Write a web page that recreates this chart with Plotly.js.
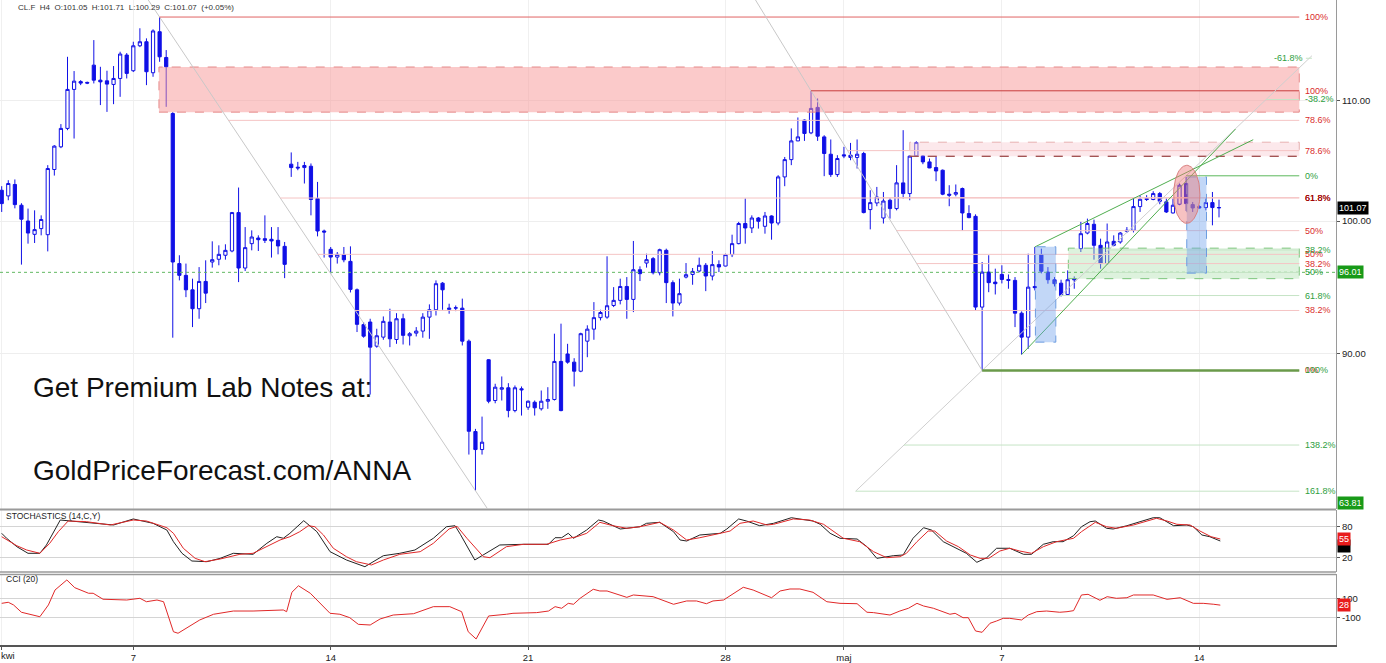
<!DOCTYPE html>
<html><head><meta charset="utf-8">
<script src="https://cdn.plot.ly/plotly-3.0.1.min.js"></script>
<style>html,body{margin:0;padding:0;background:#fff}#chart{width:1386px;height:663px}</style>
</head><body><div id="chart"></div>
<script>
// ---------- price data (H4 bars, index = bar number) ----------
const open = [102.47,102.01,102.94,101.26,100.00,98.95,99.40,98.92,104.17,106.06,
107.62,111.00,111.69,111.62,113.16,111.82,111.76,111.44,111.97,114.07,
112.66,114.91,115.28,112.48,116.20,113.85,108.90,96.68,95.78,94.69,
93.28,95.32,96.80,97.01,97.32,97.65,100.67,96.34,98.22,98.66,
98.61,98.56,98.48,98.01,104.61,104.36,104.33,104.44,101.80,99.21,
97.78,97.18,97.37,96.85,94.69,92.11,92.30,90.55,91.20,92.30,
91.03,92.54,91.30,91.49,91.64,92.66,93.20,95.19,93.23,93.32,
93.32,90.91,84.62,83.42,89.58,86.73,87.51,87.61,86.04,87.54,
86.27,86.61,86.16,86.68,86.80,89.46,89.99,89.41,88.77,90.91,
91.78,92.62,92.66,93.52,93.90,94.94,93.97,96.21,96.72,97.06,
95.98,97.70,95.23,93.70,95.65,95.85,96.11,96.55,95.73,96.60,
96.49,97.37,98.22,99.80,99.45,100.24,99.58,100.40,99.84,103.56,
104.99,106.56,108.33,107.24,109.43,106.90,105.44,103.75,105.39,105.36,
105.17,105.50,100.91,101.44,100.24,101.66,100.99,103.07,102.20,105.30,
105.30,104.80,104.33,104.11,102.15,102.15,102.61,100.59,100.37,93.40,
96.03,95.27,95.85,95.47,95.40,92.95,91.20,94.94,97.37,96.03,
95.45,95.19,94.34,95.53,97.83,99.05,99.74,98.09,96.68,98.40,
98.35,99.18,99.26,101.15,101.80,101.72,102.20,101.53,100.64,101.34,
103.02,101.31,101.15,101.07,101.47,101.05];
const high = [102.80,103.29,103.35,101.42,100.99,100.85,100.45,104.53,106.20,107.99,
113.91,112.63,111.82,111.69,115.43,113.01,112.66,113.08,114.37,114.25,
115.28,116.52,115.59,116.42,117.56,114.52,109.02,97.32,96.68,95.53,
96.41,96.93,98.40,98.09,98.17,100.72,102.69,99.52,99.26,98.87,
100.45,99.52,99.52,98.35,105.59,104.80,104.80,104.67,103.15,99.32,
97.96,97.57,97.96,98.01,94.79,92.30,92.54,91.81,92.71,93.28,
92.95,92.91,91.57,91.93,92.95,93.60,95.40,95.27,93.65,93.52,
94.03,91.03,84.80,85.63,89.62,87.89,88.40,87.93,87.77,87.70,
86.73,86.73,87.42,87.65,91.45,92.18,90.72,89.69,91.52,92.06,
93.77,93.20,97.24,94.89,95.53,95.65,98.43,96.47,97.44,97.18,
97.83,97.83,95.40,95.53,96.72,96.34,97.14,96.72,97.65,96.93,
97.44,98.92,99.93,101.80,100.45,100.32,100.72,100.45,103.70,105.21,
107.62,108.56,108.39,110.88,110.21,107.04,106.68,105.36,106.06,106.39,
106.68,105.64,102.47,102.74,102.33,101.82,104.53,107.47,105.33,106.53,
105.36,105.08,105.28,104.17,102.88,102.94,102.69,101.26,100.53,96.80,
97.32,96.29,96.55,95.85,95.65,93.08,97.44,97.96,97.83,96.41,
95.65,95.45,96.16,95.70,99.93,100.19,100.11,98.61,99.80,98.87,
99.13,99.52,101.80,102.07,102.07,102.39,102.33,101.80,101.80,103.02,
103.56,101.52,101.26,101.82,102.33,101.71];
const low = [100.72,101.66,101.01,96.60,98.22,98.27,98.87,97.62,103.67,105.95,
107.47,106.76,111.38,111.47,111.53,109.63,109.04,109.71,110.35,111.97,
112.54,114.79,111.38,112.12,113.46,109.48,91.16,95.40,94.14,91.93,
92.54,93.70,96.37,96.55,96.98,97.55,95.27,96.11,97.70,97.65,
98.27,97.14,97.39,95.57,103.56,104.11,103.02,100.45,98.79,97.14,
95.91,96.68,96.78,94.49,91.57,91.16,87.14,90.44,91.01,90.48,
90.72,90.67,90.60,91.25,91.16,91.08,92.78,93.20,92.91,93.10,
90.60,83.09,80.74,83.09,86.54,86.54,86.73,85.58,85.92,85.70,
86.09,85.70,86.04,86.16,86.73,85.99,89.30,87.70,88.70,89.76,
91.01,92.42,92.54,93.40,93.60,92.54,93.03,95.35,96.37,95.85,
95.78,93.70,92.71,93.52,95.55,95.07,96.01,94.59,95.40,96.03,
96.47,97.18,98.17,98.22,99.05,99.40,99.00,98.53,99.66,102.80,
104.53,106.54,106.56,107.13,106.56,103.62,103.56,103.56,105.11,104.94,
104.25,100.61,99.34,101.18,99.80,100.19,100.85,101.80,101.66,105.28,
104.61,104.28,103.21,102.07,101.18,101.98,99.26,100.22,93.15,88.82,
94.51,94.34,95.17,94.77,91.93,89.95,90.36,94.64,95.93,95.15,
94.94,94.19,94.27,94.77,97.57,98.95,96.98,96.29,96.62,98.01,
98.22,99.05,99.10,100.72,101.60,101.66,101.34,100.64,100.59,101.26,
100.80,100.72,100.99,100.85,99.66,100.29];
const close = [101.39,103.02,101.31,100.14,99.05,99.32,100.12,104.25,106.12,107.62,
111.00,111.73,111.56,111.56,111.82,111.67,111.47,111.97,114.16,112.42,
114.91,115.28,112.57,116.27,113.91,113.01,96.80,95.78,94.69,93.28,
95.32,94.44,96.98,97.39,97.70,100.67,96.34,97.91,98.74,98.53,
98.48,98.43,98.04,96.62,104.33,104.30,104.50,101.72,99.21,99.13,
97.18,97.39,96.97,94.72,92.13,91.27,90.48,91.30,92.35,91.08,
92.54,91.33,91.45,91.64,92.66,93.20,95.15,94.69,93.32,93.35,
90.91,84.64,83.42,83.91,86.68,87.65,87.61,86.04,87.61,87.47,
86.68,86.23,86.68,86.80,89.46,86.04,89.41,88.77,91.45,91.78,
92.62,93.00,93.50,93.90,94.94,93.97,96.21,95.91,96.98,95.98,
97.75,95.23,93.70,94.40,95.83,96.08,96.55,95.73,96.60,96.42,
97.37,98.22,99.80,99.45,100.24,99.98,100.40,99.84,103.56,104.99,
106.56,106.90,107.19,109.34,106.96,105.50,103.75,105.08,105.30,105.17,
105.44,100.67,101.47,101.92,101.60,100.99,103.07,102.20,105.28,106.42,
104.80,104.30,104.05,102.15,102.07,102.28,100.64,100.27,93.40,96.03,
95.23,95.15,95.47,95.40,92.95,91.20,94.89,94.85,96.09,95.45,
95.15,94.27,95.45,95.45,99.00,99.80,98.09,96.68,98.35,98.09,
99.05,99.26,101.15,101.74,101.72,102.20,101.58,100.72,101.26,102.88,
101.39,101.04,101.04,101.47,101.07,101.07];
const barIdx = open.map((_, i) => i);

// ---------- axis labels ----------
const tickIdx  = [0, 20, 50, 80, 110, 128, 152, 182];
const tickText = ['kwi', '7', '14', '21', '28', 'maj', '7', '14'];
const priceTicks = [90, 100, 110];
const priceTickText = ['90.00', '100.00', '110.00'];

// ---------- Stochastics (14,C,Y) ----------
const stochKX = [0,0.75,2.3,4,5.8,6.8,8.9,11.4,13.9,17,20,22,23,25.1,26.1,27.4,28.9,31.2,33.2,35.2,38.2,40.3,41.8,42.8,43.8,45.9,47.9,49.9,52.4,55.2,58,60.5,62.8,65.6,67.6,68.9,69.7,71.9,75.7,79.3,83.1,84.1,85.1,86.1,86.9,88.9,90.7,91.4,94,97,98,100,102.1,103.1,104.1,106.1,109.2,110.2,112,113.2,115.2,117.3,120,123.3,124.4,125.9,127.4,130,131.5,133,135.5,137,138.5,140.1,141.3,143.1,144.6,146.6,148.2,149.7,151.2,153.2,155.3,156.5,158.3,159.8,161.3,162.9,164.1,165.4,166.2,167.9,168.9,171,173,175,176,178.1,180.1,181.1,182.4,183.6,185.2];
const stochK  = [66.6,57.1,41,28.4,28.4,44.3,92,88.8,85.7,82.5,94,88.8,85.7,72.9,50.6,28.4,13.7,12.4,18.8,28.4,26.5,47.5,60.1,57.1,66.6,90.7,69.7,31.5,15.6,2.8,23.8,28.4,34.7,57.1,79.2,81.1,64.7,15.6,44.3,45.6,45.6,58.2,58.2,66.6,57.1,72.9,92,90.1,74.8,79.2,85.7,87.6,69.7,53.8,51.9,63.4,66.6,74.8,94,90.1,81.1,85.7,96.4,90.1,83.8,66.6,57.1,55.7,41,18.8,23.8,25.2,57.1,77.3,72.9,50.6,41,28.4,11.2,20,38,38,26.5,26.5,45.6,50.6,50.6,62,79.2,88.8,90.1,76.2,74.8,81.1,88.8,96.4,96.4,81.1,82.5,79.2,63.4,60.1,51.9];
const stochDX = [0,2.3,3.8,5.8,7.3,8.6,10.1,12.9,16.5,20,22,23.6,25.1,26.1,27.6,29.4,30.9,33.2,36.2,38.2,40.3,42.3,43.8,45.3,46.6,47.6,48.9,50.4,52.4,53.9,56.2,58,60.5,63.6,65.6,68,69.2,70.7,73.2,74.2,76.7,79.3,82.8,84.9,87.4,88.9,90.9,92.9,95,97,100,102.1,104.1,106.1,109.2,110.7,112.2,114.2,116.3,117.3,120.3,122.8,124.9,126.4,127.9,130.4,132.5,134.5,136.5,137.5,139.1,140.8,141.8,143.6,145.4,147.2,148.7,150,151.7,153.2,154.7,156.5,158.3,160.3,162.9,164.1,166.2,167.9,169.4,172,174,175.5,177.1,178.6,180.6,182.1,183.8,185.2];
const stochD  = [60.1,42.9,34.7,28.4,47.5,69.7,90.1,88.8,82.5,92,90.1,83.8,77.3,66.6,38,18.8,12.4,17.5,26.5,28.4,41,53.8,60.1,69.7,81.1,79.2,63.4,38,21.9,12.4,6.1,15.6,26.5,31.5,47.5,75,80,57.1,21.9,20,41,45.6,45.6,53.8,60.1,66.6,87.6,81.1,76.2,79.2,87.6,72.9,53.8,58.2,66.6,71,85.7,90.1,82.5,83.8,94,92,83.8,69.7,57.1,50.6,31.5,20,21.9,28.4,50.6,71,71,51.9,41,25.2,18.8,18.8,32.8,38,32.8,28.4,41,50.6,57.1,69.7,87.6,79.2,76.2,82.5,90.1,95.3,90.1,83.8,82.5,71,60.1,55.7];

// ---------- CCI (20) ----------
const cciX = [0,1,1.8,3,5.8,7.1,8.1,9.9,11.1,13.2,13.9,15.4,19,21,22,23.6,24.6,26.1,26.8,30.1,32.2,35.2,38.2,42.8,43.3,44.1,45.1,46.9,49.9,51.4,52.9,54.2,56,57.5,59.5,62.6,65.6,68.1,69.9,70.9,72.1,74,76.7,77.7,81.3,83.1,84.1,85.1,86.1,86.9,87.9,89.9,90.9,92,95,96,99,102.1,104.1,105.6,107.1,108.1,109.7,111.2,112.7,114.2,116.3,117,118.3,119.8,121.3,123.3,125.4,127.4,130,131.5,132.5,135,136.5,137.8,139.1,140.1,141.6,144.1,144.9,146.1,146.9,148,149,150.2,151.2,152.2,153.2,155,156,157.3,158.8,160.8,161.9,162.9,164.1,165.1,166.9,168,169.4,171,172,175,177.1,179.1,181.1,182.6,184.2,185.2];
const cciY = [47,58,30,-47,-94,30,187,293,212,153,153,90,82,100,64,82,64,-252,-268,-128,-68,-34,-34,-23,-41,163,232,153,-58,-68,-104,-174,-181,-118,-76,-62,12,12,-41,-252,-328,-86,-68,-58,-51,-34,12,-5,47,37,100,195,177,177,110,135,117,37,72,72,43,72,82,153,216,187,127,106,177,198,198,163,64,47,43,-47,-51,-76,-34,-5,47,19,-5,-68,-58,-104,-104,-244,-258,-163,-139,-111,-111,-128,-76,-41,-34,-47,-41,-30,135,142,79,117,100,106,135,135,89,106,47,47,37,28];

// ---------- drawing tools (anchors) ----------
const fibEnd = 197.2;                       // right end of all level lines (bar index)
const fib1 = {x0: 24, p0: 117.56, x1: 72, p1: 80.74};
const fib1Labels = ['100%', '78.6%', '61.8%', '50%', '38.2%'];
const fib1Prices = [117.56, 108.31, 101.84, 97.39, 93.15];
const fib2 = {x0: 123, p0: 110.88, x1: 149, p1: 88.82};
const fib2Labels = ['100%', '78.6%', '61.8%', '50%', '38.2%', '0%'];
const fib2Prices = [110.88, 105.74, 101.87, 99.24, 96.68, 88.82];
const fib3 = {x0: 149, p0: 88.82, x1: 180, p1: 103.65};
const fib3Labels = ['-61.8%', '-38.2%', '0%', '38.2%', '50%', '61.8%', '100%', '138.2%', '161.8%'];
const fib3Prices = [113.78, 110.12, 103.65, 97.73, 96.00, 94.26, 88.82, 83.72, 80.71];
const zoneRed   = {x0: 23.9, x1: 197.2, p0: 109.02, p1: 112.99};
const zonePink  = {x0: 138.0, x1: 197.2, p0: 105.27, p1: 106.45};
const zoneGreen = {x0: 162.1, x1: 197.2, p0: 95.53, p1: 97.87};
const boxBlue1  = {x0: 157.1, x1: 160.2, p0: 90.84, p1: 97.98};
const boxBlue2  = {x0: 180.1, x1: 183.1, p0: 95.95, p1: 103.56};
const ellipseMark = {cx: 180.1, cp: 102.14, rx: 2.0, rlog: 0.0100};
const chanLow  = {x0: 155, p0: 89.95, x1: 168, p1: 96.62, xEnd: 187.5};
const chanHigh = {x0: 157, p0: 97.96, x1: 172, p1: 101.80, xEnd: 190.2};
const lastPrice = 101.07, markPrice = 96.01, stopPrice = 63.81;
const stochLast = 55, cciLast = 28;

// ---------- geometry ----------
const L = Math.log10;
const pTop = 119.16, pBot = 79.61;
const xRange = [-0.258, 202.78];
function crossX(a, p) { const t = (L(p) - L(a.p0)) / (L(a.p1) - L(a.p0)); return a.x0 + t * (a.x1 - a.x0); }
function lineAt(c, x) { const s = (L(c.p1) - L(c.p0)) / (c.x1 - c.x0); return Math.pow(10, L(c.p0) + s * (x - c.x0)); }

const CANDLE = '#1010e6';
const traces = [];
function seg(x, y, color, width, dash, ax) {
  traces.push({type: 'scatter', mode: 'lines', x: x, y: y, xaxis: 'x', yaxis: ax || 'y',
    line: {color: color, width: width || 1, dash: dash || 'solid'}, hoverinfo: 'skip', showlegend: false});
}
function rect(r, fill, lineCol, dash) {
  traces.push({type: 'scatter', mode: 'lines', x: [r.x0, r.x1, r.x1, r.x0, r.x0], y: [r.p0, r.p0, r.p1, r.p1, r.p0],
    fill: 'toself', fillcolor: fill, line: {color: lineCol, width: 1, dash: dash || 'dash'},
    xaxis: 'x', yaxis: 'y', hoverinfo: 'skip', showlegend: false});
}
const annotations = [];
function label(x, p, text, color, anchor) {
  annotations.push({xref: 'x', yref: 'y', x: x, y: L(p), text: text, showarrow: false, xanchor: anchor || 'left',
    yanchor: 'middle', font: {family: 'Liberation Sans, Arial, sans-serif', size: 9, color: color}});
}

// zones behind candles
rect(zoneRed, 'rgba(248,150,150,0.50)', '#e58a8a');
rect(zonePink, 'rgba(248,205,210,0.45)', '#e6b0b0');
seg([zonePink.x0, zonePink.x1], [zonePink.p0, zonePink.p0], '#8a3030', 1, 'dash');
rect(zoneGreen, 'rgba(170,222,170,0.40)', '#7cc47c');

// price 96.01 line
seg([xRange[0], xRange[1]], [markPrice, markPrice], '#62b862', 1, 'dot');

// fib 1
seg([crossX(fib1, pTop), crossX(fib1, pBot)], [pTop, pBot], '#c8c8c8', 1);
fib1Prices.forEach((p, i) => {
  seg([crossX(fib1, p), fibEnd], [p, p], i === 0 ? '#e06464' : '#f5c4c4', 1);
  label(fibEnd + 0.6, p, fib1Labels[i], i === 2 ? '#a00000' : '#d92c2c');
});
// fib 2
seg([crossX(fib2, pTop), fib2.x1], [pTop, fib2.p1], '#c8c8c8', 1);
fib2Prices.forEach((p, i) => {
  seg([crossX(fib2, p), fibEnd], [p, p], i === 0 ? '#c83c3c' : '#f5c4c4', 1);
  label(fibEnd + 0.6, p, fib2Labels[i], i === 2 ? '#a00000' : '#d92c2c');
});
// fib 3 (green extension)
const f3lo = fib3Prices[fib3Prices.length - 1], f3hi = fib3Prices[0];
seg([crossX(fib3, f3lo), crossX(fib3, f3hi) + 0.4], [f3lo, lineAt({x0: fib3.x0, p0: fib3.p0, x1: fib3.x1, p1: fib3.p1}, crossX(fib3, f3hi) + 0.4)], '#cfcfcf', 1);
fib3Prices.forEach((p, i) => {
  const cx = crossX(fib3, p);
  let col = '#c6e4c6', w = 1;
  if (fib3Labels[i] === '0%') col = '#5cb85c';
  if (fib3Labels[i] === '100%') { col = '#6a9a4a'; w = 2.5; }
  if (cx > fibEnd) {
    seg([fibEnd + 1.0, cx + 0.4], [p, p], col, w);
    label(fibEnd + 0.9, p, fib3Labels[i], '#2e9e3e', 'right');
  } else {
    seg([cx, fibEnd], [p, p], col, w);
    label(fibEnd + 0.6, p, fib3Labels[i], '#2e9e3e');
  }
});

// candles
traces.push({type: 'candlestick', x: barIdx, open: open, high: high, low: low, close: close,
  xaxis: 'x', yaxis: 'y', whiskerwidth: 0, hoverinfo: 'skip', showlegend: false,
  increasing: {line: {color: CANDLE, width: 1}, fillcolor: '#ffffff'},
  decreasing: {line: {color: CANDLE, width: 1}, fillcolor: CANDLE}});

// channel lines
[chanLow, chanHigh].forEach(c => seg([c.x0, c.xEnd], [c.p0, lineAt(c, c.xEnd)], '#4fae4f', 1));

// boxes and ellipse over candles
rect(boxBlue1, 'rgba(110,160,235,0.42)', '#6d9de0');
rect(boxBlue2, 'rgba(110,160,235,0.42)', '#6d9de0');
(function () {
  const ex = [], ey = [];
  for (let k = 0; k <= 72; k++) {
    const t = 2 * Math.PI * k / 72;
    ex.push(ellipseMark.cx + ellipseMark.rx * Math.cos(t));
    ey.push(Math.pow(10, L(ellipseMark.cp) + ellipseMark.rlog * Math.sin(t)));
  }
  traces.push({type: 'scatter', mode: 'lines', x: ex, y: ey, fill: 'toself', fillcolor: 'rgba(238,120,120,0.45)',
    line: {color: '#d98080', width: 1}, xaxis: 'x', yaxis: 'y', hoverinfo: 'skip', showlegend: false});
})();

// indicators
seg(stochKX, stochK, '#222222', 1, 'solid', 'y2');
seg(stochDX, stochD, '#e02828', 1, 'solid', 'y2');
seg(cciX, cciY, '#e02828', 1, 'solid', 'y3');

// ---------- texts ----------
const PW = 1336, PH = 645;
function paperText(px, py, text, size, color, extra) {
  annotations.push(Object.assign({xref: 'paper', yref: 'paper', x: px / PW, y: 1 - py / PH, text: text,
    showarrow: false, xanchor: 'left', yanchor: 'middle',
    font: {family: 'Liberation Sans, Arial, sans-serif', size: size, color: color}}, extra || {}));
}
paperText(16, 7, 'CL.F&nbsp; H4&nbsp; O:101.05&nbsp; H:101.71&nbsp; L:100.29&nbsp; C:101.07&nbsp; (+0.05%)', 8, '#333');
paperText(31, 387, 'Get Premium Lab Notes at:', 28, '#111');
paperText(31, 470, 'GoldPriceForecast.com/ANNA', 28, '#111');
paperText(4, 516, 'STOCHASTICS (14,C,Y)', 8.5, '#222');
paperText(4, 579, 'CCI (20)', 8.5, '#222');
// first date label sits at the very left edge
paperText(-1, 655, tickText[0], 9.5, '#222');

function box(yref, y, text, bg) {
  annotations.push({xref: 'paper', yref: yref, x: 1337 / PW, y: y, text: text, showarrow: false,
    xanchor: 'left', yanchor: 'middle', bgcolor: bg, borderpad: 1,
    font: {family: 'Liberation Sans, Arial, sans-serif', size: 9, color: '#fff'}});
}
box('y', L(lastPrice), lastPrice.toFixed(2), '#000');
box('y', L(markPrice), markPrice.toFixed(2), '#189a18');
box('paper', 1 - 503 / PH, stopPrice.toFixed(2), '#189a18');
box('y2', 42, '&nbsp;&nbsp;&nbsp;&nbsp;', '#000');
box('y2', stochLast, String(stochLast), '#e81c1c');
box('y3', cciLast, String(cciLast), '#e81c1c');

const shapes = [
  {type: 'line', xref: 'paper', yref: 'paper', x0: 0, x1: 1, y0: 1 - 509.5 / PH, y1: 1 - 509.5 / PH, line: {color: '#9a9a9a', width: 2}},
  {type: 'line', xref: 'paper', yref: 'paper', x0: 0, x1: 1, y0: 1 - 572 / PH, y1: 1 - 572 / PH, line: {color: '#9a9a9a', width: 1.5}},
  {type: 'line', xref: 'paper', yref: 'paper', x0: 0, x1: 1, y0: 1 - 574.5 / PH, y1: 1 - 574.5 / PH, line: {color: '#9a9a9a', width: 1.5}}
];

const tickFont = {family: 'Liberation Sans, Arial, sans-serif', size: 9.5, color: '#222'};
const layout = {
  width: 1386, height: 663, margin: {l: 0, r: 50, t: 0, b: 18},
  paper_bgcolor: '#fff', plot_bgcolor: '#fff', showlegend: false, hovermode: false,
  xaxis: {range: xRange, anchor: 'y3', tickmode: 'array', tickvals: tickIdx, ticktext: tickText.map((t, i) => i === 0 ? '' : t),
    ticks: 'outside', ticklen: 3, tickcolor: '#555', showline: true, linecolor: '#555', linewidth: 1.5,
    showgrid: true, gridcolor: '#f0f0f0', zeroline: false, tickfont: tickFont, rangeslider: {visible: false}, fixedrange: true},
  yaxis: {type: 'log', domain: [1 - 508.5 / PH, 1], range: [L(pBot), L(pTop)], side: 'right', anchor: 'x',
    tickmode: 'array', tickvals: priceTicks, ticktext: priceTickText, ticks: 'outside', ticklen: 3, tickcolor: '#555',
    showline: true, linecolor: '#9a9a9a', showgrid: true, gridcolor: '#eeeeee', zeroline: false, tickfont: tickFont, fixedrange: true},
  yaxis2: {domain: [1 - 571.7 / PH, 1 - 509.5 / PH], range: [-6.75, 112.1], side: 'right', anchor: 'x',
    tickmode: 'array', tickvals: [20, 80], ticktext: ['20', '80'], ticks: 'outside', ticklen: 3, tickcolor: '#555',
    showline: true, linecolor: '#9a9a9a', showgrid: true, gridcolor: '#d4d4d4', zeroline: false, tickfont: tickFont, fixedrange: true},
  yaxis3: {domain: [0, 1 - 574.3 / PH], range: [-391.6, 352.6], side: 'right', anchor: 'x',
    tickmode: 'array', tickvals: [-100, 100], ticktext: ['-100', '100'], ticks: 'outside', ticklen: 3, tickcolor: '#555',
    showline: true, linecolor: '#9a9a9a', showgrid: true, gridcolor: '#d4d4d4', zeroline: false, tickfont: tickFont, fixedrange: true},
  annotations: annotations, shapes: shapes
};
Plotly.newPlot('chart', traces, layout, {staticPlot: true, displayModeBar: false});
</script></body></html>
